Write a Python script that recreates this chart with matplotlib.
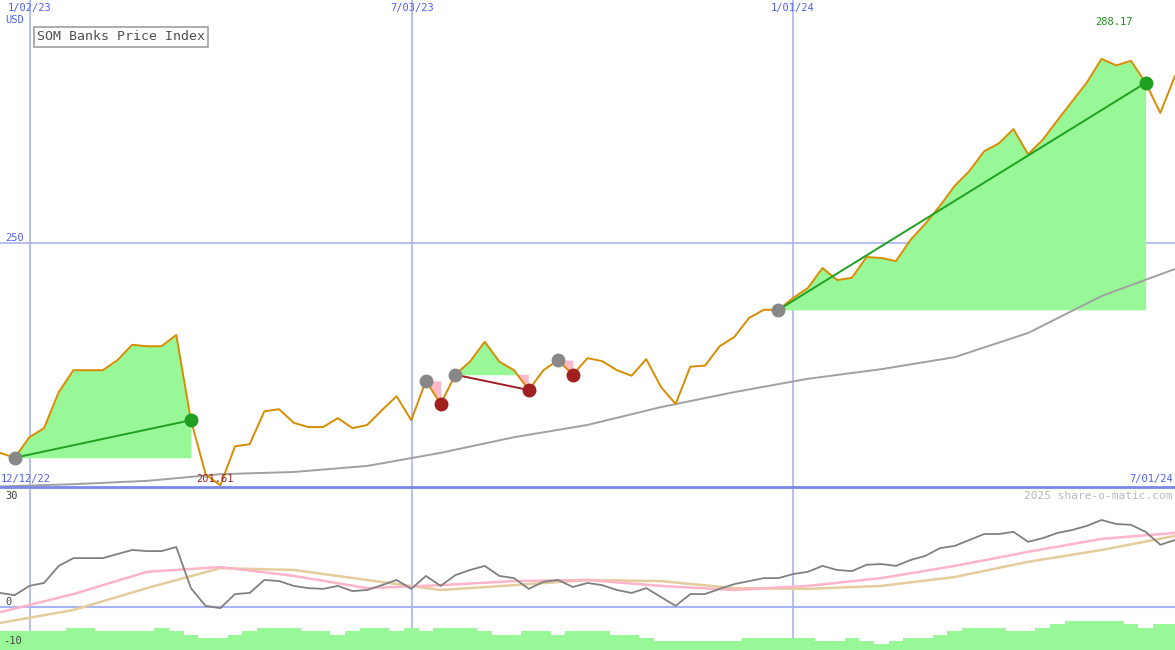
import matplotlib
matplotlib.use("Agg")
import matplotlib.pyplot as plt
import numpy as np

# weekly closes, 12/12/22 .. 7/01/24
price = [207.5, 206.6, 210.4, 212.1, 219.0, 223.3, 223.3, 223.3, 225.3, 228.4,
         228.1, 228.1, 230.4, 213.6, 203.6, 201.6, 208.7, 209.1, 215.3, 215.7,
         213.1, 212.3, 212.3, 214.0, 212.1, 212.7, 215.5, 218.2, 213.6, 221.2,
         216.7, 222.4, 225.0, 229.0, 225.0, 223.3, 219.4, 223.3, 225.3, 222.4,
         225.7, 225.1, 223.3, 222.2, 225.5, 220.0, 216.7, 224.0, 224.2, 228.1,
         230.0, 233.9, 235.6, 235.6, 238.1, 240.2, 244.5, 241.9, 242.4, 246.9,
         246.7, 246.0, 250.7, 254.3, 258.4, 263.0, 266.5, 271.2, 273.1, 276.6,
         270.5, 274.0, 278.8, 283.5, 288.3, 294.4, 292.7, 293.9, 288.2, 280.6,
         290.0]
# long moving average, every 5 weeks
ma_x = list(range(0, 81, 5))
ma = [201.4, 201.8, 202.4, 203.6, 204.0, 205.1, 207.5, 210.4, 212.7, 216.1,
      219.0, 221.6, 223.5, 225.9, 230.8, 238.5, 244.3]

# lower panel
osc = [3.8, 3.2, 5.7, 6.5, 11.1, 13.2, 13.2, 13.2, 14.3, 15.4,
       15.1, 15.1, 16.2, 5.1, 0.3, -0.3, 3.5, 3.8, 7.3, 7.0,
       5.7, 5.1, 4.9, 5.7, 4.3, 4.6, 5.9, 7.3, 4.9, 8.4,
       5.7, 8.6, 10.0, 11.1, 8.4, 7.8, 4.9, 6.8, 7.3, 5.4,
       6.5, 5.9, 4.6, 3.8, 5.1, 2.7, 0.3, 3.5, 3.5, 4.9,
       6.2, 7.0, 7.8, 7.8, 8.9, 9.5, 11.1, 10.0, 9.7, 11.4,
       11.6, 11.1, 12.7, 13.8, 15.9, 16.5, 18.1, 19.7, 19.7, 20.3,
       17.6, 18.6, 20.0, 20.8, 21.9, 23.5, 22.4, 22.2, 20.3, 16.8,
       18.1]
osc_pink = [-1.4, 3.5, 9.5, 10.8, 8.4, 5.1, 5.9, 7.0, 7.3, 5.7,
            4.6, 5.7, 7.8, 11.1, 14.9, 18.4, 20.0]
osc_tan = [-4.3, -0.8, 5.1, 10.5, 10.0, 7.3, 4.6, 5.9, 7.3, 7.0,
           5.1, 4.9, 5.7, 8.1, 12.2, 15.4, 19.2]
bars = [-6.5, -6.5, -6.5, -6.5, -6.5, -5.7, -5.7, -6.5, -6.5, -6.5,
        -6.5, -5.7, -6.5, -7.6, -8.4, -8.4, -7.6, -6.5, -5.7, -5.7,
        -5.7, -6.5, -6.5, -7.6, -6.5, -5.7, -5.7, -6.5, -5.7, -6.5,
        -5.7, -5.7, -5.7, -6.5, -7.6, -7.6, -6.5, -6.5, -7.6, -6.5,
        -6.5, -6.5, -7.6, -7.6, -8.4, -9.2, -9.2, -9.2, -9.2, -9.2,
        -9.2, -8.4, -8.4, -8.4, -8.4, -8.4, -9.2, -9.2, -8.4, -9.2,
        -10.0, -9.2, -8.4, -8.4, -7.6, -6.5, -5.7, -5.7, -5.7, -6.5,
        -6.5, -5.7, -4.6, -3.8, -3.8, -3.8, -3.8, -4.6, -5.7, -4.6,
        -4.6]

# signals: (start, end, kind)
signals = [(1, 13, "up"), (29, 30, "down"), (31, 36, "down"), (38, 39, "down"), (53, 78, "up")]
date_ticks = [2.04, 28.05, 53.98]
date_labels = ["1/02/23", "7/03/23", "1/01/24"]

W, H = 1175, 650
step = W / 80
grid_c = "#a8b4f4"
mono = "DejaVu Sans Mono"
x = np.arange(len(price))
p = np.array(price)

fig = plt.figure(figsize=(W / 100, H / 100), dpi=100)
ax = fig.add_axes([0, 1 - 487 / H, 1, 487 / H])
ax2 = fig.add_axes([0, 0, 1, 163 / H])
for a in (ax, ax2):
    a.set_xlim(0, 80)
    a.axis("off")
    for t in date_ticks:
        a.axvline(t, color=grid_c, lw=1.2, zorder=0)

ax.set_yscale("log")
ax.set_ylim(201.3, 310.2)
ax.axhline(250, color=grid_c, lw=1.2, zorder=0)

ax.plot(ma_x, ma, color="#a0a0a0", lw=1.4, zorder=2)

for s, e, kind in signals:
    xs = x[s:e + 1]
    ys = p[s:e + 1]
    base = p[s]
    ax.fill_between(xs, ys, base, where=ys >= base, interpolate=True,
                    color="#98f898", lw=0, zorder=1)
    ax.fill_between(xs, ys, base, where=ys <= base, interpolate=True,
                    color="#ffb8c8", lw=0, zorder=1)

ax.plot(x, p, color="#d88c00", lw=1.4, zorder=3)

for s, e, kind in signals:
    lc = "#20a020" if kind == "up" else "#a02020"
    if e - s > 1:
        ax.plot([s, e], [p[s], p[e]], color=lc, lw=1.4, zorder=4)
    ax.plot(s, p[s], "o", color="#888888", ms=9, zorder=5)
    ax.plot(e, p[e], "o", color=lc, ms=9, zorder=5)

# lower panel
ax2.set_ylim(-11.6, 32.4)
ax2.axhline(0, color=grid_c, lw=1.5, zorder=0)
ax2.bar(x, np.array(bars) + 11.6, bottom=-11.6, width=1.0, color="#98f898", lw=0, zorder=1)
ax2.plot(ma_x, osc_tan, color="#e4cc9c", lw=1.8, zorder=2)
ax2.plot(ma_x, osc_pink, color="#ffb4c8", lw=1.8, zorder=2)
ax2.plot(x, osc, color="#808080", lw=1.3, zorder=3)

fig.add_artist(plt.Line2D([0, 1], [1 - 487 / H] * 2, color="#7888ec", lw=2))

def txt(px, py, s, color="#5060f0", ha="left", size=7.5, **kw):
    fig.text(px / W, 1 - py / H, s, color=color, ha=ha, va="center",
             family=mono, size=size, **kw)

for t, lab in zip(date_ticks, date_labels):
    txt(t * step, 8, lab, ha="center")
txt(5, 20, "USD")
txt(5, 238, "250")
txt(1, 479, "12/12/22")
txt(1173, 479, "7/01/24", ha="right")
txt(196, 479, "201.61", color="#a02020")
txt(1095, 22, "288.17", color="#209020")
txt(1172, 496, "2025 share-o-matic.com", color="#b8b8b8", ha="right", size=8)
txt(5, 496, "30", color="#404040")
txt(5, 602, "0", color="#404040")
txt(3, 641, "-10", color="#404040")
fig.text(37 / W, 1 - 37 / H, "SOM Banks Price Index", color="#505050", ha="left",
         va="center", family=mono, size=9.5,
         bbox=dict(boxstyle="square,pad=0.25", fc="white", ec="#a0a0a0", lw=1.2))

fig.savefig("out.png", dpi=100)
